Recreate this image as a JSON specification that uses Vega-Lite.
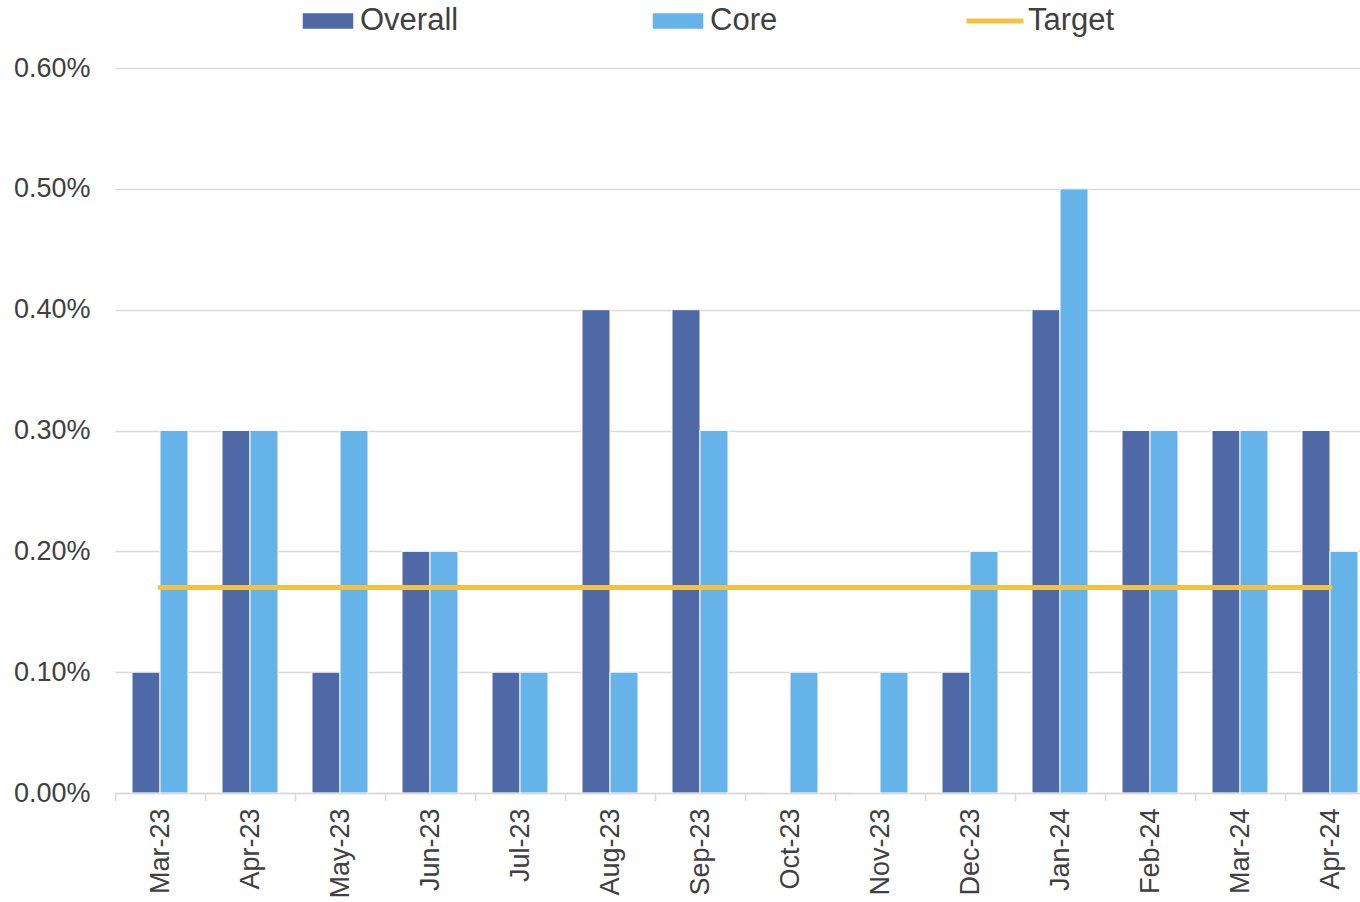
{
  "$schema": "https://vega.github.io/schema/vega-lite/v6.json",
  "width": 1260,
  "height": 725,
  "autosize": {"type": "none"},
  "padding": {"left": 115, "top": 68, "right": 0, "bottom": 109},
  "background": "white",
  "config": {
    "view": {"stroke": null},
    "font": "Liberation Sans",
    "axis": {"labelFont": "Liberation Sans"},
    "legend": {"labelFont": "Liberation Sans"}
  },
  "data": {
    "values": [
      {"month": "Mar-23", "series": "Overall", "value": 0.001},
      {"month": "Mar-23", "series": "Core", "value": 0.003},
      {"month": "Apr-23", "series": "Overall", "value": 0.003},
      {"month": "Apr-23", "series": "Core", "value": 0.003},
      {"month": "May-23", "series": "Overall", "value": 0.001},
      {"month": "May-23", "series": "Core", "value": 0.003},
      {"month": "Jun-23", "series": "Overall", "value": 0.002},
      {"month": "Jun-23", "series": "Core", "value": 0.002},
      {"month": "Jul-23", "series": "Overall", "value": 0.001},
      {"month": "Jul-23", "series": "Core", "value": 0.001},
      {"month": "Aug-23", "series": "Overall", "value": 0.004},
      {"month": "Aug-23", "series": "Core", "value": 0.001},
      {"month": "Sep-23", "series": "Overall", "value": 0.004},
      {"month": "Sep-23", "series": "Core", "value": 0.003},
      {"month": "Oct-23", "series": "Overall", "value": 0.0},
      {"month": "Oct-23", "series": "Core", "value": 0.001},
      {"month": "Nov-23", "series": "Overall", "value": 0.0},
      {"month": "Nov-23", "series": "Core", "value": 0.001},
      {"month": "Dec-23", "series": "Overall", "value": 0.001},
      {"month": "Dec-23", "series": "Core", "value": 0.002},
      {"month": "Jan-24", "series": "Overall", "value": 0.004},
      {"month": "Jan-24", "series": "Core", "value": 0.005},
      {"month": "Feb-24", "series": "Overall", "value": 0.003},
      {"month": "Feb-24", "series": "Core", "value": 0.003},
      {"month": "Mar-24", "series": "Overall", "value": 0.003},
      {"month": "Mar-24", "series": "Core", "value": 0.003},
      {"month": "Apr-24", "series": "Overall", "value": 0.003},
      {"month": "Apr-24", "series": "Core", "value": 0.002},
      {"month": "Mar-23", "series": "Target", "value": 0.0017},
      {"month": "Apr-23", "series": "Target", "value": 0.0017},
      {"month": "May-23", "series": "Target", "value": 0.0017},
      {"month": "Jun-23", "series": "Target", "value": 0.0017},
      {"month": "Jul-23", "series": "Target", "value": 0.0017},
      {"month": "Aug-23", "series": "Target", "value": 0.0017},
      {"month": "Sep-23", "series": "Target", "value": 0.0017},
      {"month": "Oct-23", "series": "Target", "value": 0.0017},
      {"month": "Nov-23", "series": "Target", "value": 0.0017},
      {"month": "Dec-23", "series": "Target", "value": 0.0017},
      {"month": "Jan-24", "series": "Target", "value": 0.0017},
      {"month": "Feb-24", "series": "Target", "value": 0.0017},
      {"month": "Mar-24", "series": "Target", "value": 0.0017},
      {"month": "Apr-24", "series": "Target", "value": 0.0017}
    ]
  },
  "layer": [
    {
      "transform": [{"filter": "datum.series !== 'Target'"}],
      "mark": {"type": "bar", "stroke": "white", "strokeWidth": 1},
      "encoding": {
        "x": {
          "field": "month",
          "type": "nominal",
          "sort": null,
          "scale": {"paddingInner": 0, "paddingOuter": 0},
          "axis": {
            "title": null,
            "labelAngle": -90,
            "labelFontSize": 27,
            "labelColor": "#404040",
            "tickBand": "extent",
            "tickSize": 8,
            "tickColor": "#D9D9D9",
            "tickWidth": 1.5,
            "domainColor": "#D9D9D9",
            "domainWidth": 1.5,
            "labelPadding": 7,
            "grid": false,
            "zindex": 1
          }
        },
        "xOffset": {
          "field": "series",
          "type": "nominal",
          "sort": ["Overall", "Core"],
          "scale": {"domain": ["Overall", "Core"], "paddingInner": 0, "paddingOuter": 0.607}
        },
        "y": {
          "field": "value",
          "type": "quantitative",
          "scale": {"domain": [0, 0.006]},
          "axis": {
            "title": null,
            "format": ".2%",
            "values": [0, 0.001, 0.002, 0.003, 0.004, 0.005, 0.006],
            "domain": false,
            "ticks": false,
            "labelPadding": 25,
            "labelFontSize": 27,
            "labelColor": "#404040",
            "gridColor": "#D9D9D9",
            "gridWidth": 1.5
          }
        },
        "color": {
          "field": "series",
          "type": "nominal",
          "scale": {"domain": ["Overall", "Core"], "range": ["#4F68A6", "#66B3E9"]},
          "legend": {
            "title": null,
            "orient": "none",
            "direction": "horizontal",
            "legendX": 186,
            "legendY": -74,
            "padding": 0,
            "symbolType": "M-1,-0.33H1V0.33H-1Z",
            "symbolSize": 2704,
            "symbolOpacity": 1,
            "labelFontSize": 31,
            "labelColor": "#404040",
            "labelOffset": 5,
            "columnPadding": 190
          }
        }
      }
    },
    {
      "transform": [{"filter": "datum.series === 'Target'"}],
      "mark": {"type": "line", "strokeWidth": 5, "strokeCap": "round"},
      "encoding": {
        "x": {"field": "month", "type": "nominal", "sort": null},
        "y": {"field": "value", "type": "quantitative"},
        "stroke": {
          "field": "series",
          "type": "nominal",
          "scale": {"domain": ["Target"], "range": ["#F3C244"]},
          "legend": {
            "title": null,
            "orient": "none",
            "direction": "horizontal",
            "legendX": 849,
            "legendY": -78,
            "padding": 0,
            "symbolType": "stroke",
            "symbolSize": 3249,
            "symbolStrokeWidth": 5,
            "labelFontSize": 31,
            "labelColor": "#404040",
            "labelOffset": 2
          }
        }
      }
    }
  ]
}
